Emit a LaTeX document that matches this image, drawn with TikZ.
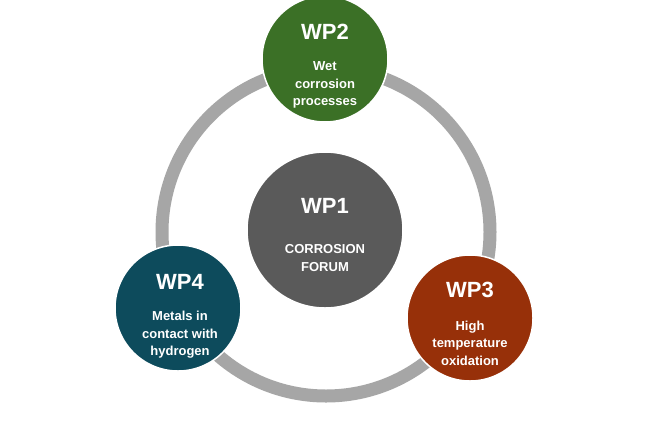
\documentclass[tikz,border=0pt]{standalone}
\usepackage{fontspec}
\setmainfont{Liberation Sans}
\begin{document}
\begin{tikzpicture}[x=1pt,y=-1pt,
  wp/.style={circle,draw=white,line width=1.5pt,text=white,font=\bfseries,align=center,inner sep=0pt},
  ttl/.style={font=\bfseries\fontsize{22}{24}\selectfont},
  sub/.style={font=\bfseries\fontsize{13}{17.5}\selectfont}]
\definecolor{ringc}{HTML}{A6A6A6}
\definecolor{c1}{HTML}{5A5A5A}
\definecolor{c2}{HTML}{3B7026}
\definecolor{c3}{HTML}{973009}
\definecolor{c4}{HTML}{0D4B5C}
\useasboundingbox[fill=white] (0,0) rectangle (650,421);
\node[circle,draw=ringc,line width=13pt,minimum size=328pt] (ring) at (326,232) {};
\node[wp,fill=c1,minimum size=156pt] (wp1) at (325,230) {};
\node[wp,fill=c2,minimum size=126pt] (wp2) at (325,59) {};
\node[wp,fill=c4,minimum size=126pt] (wp4) at (178,308) {};
\node[wp,fill=c3,minimum size=126pt] (wp3) at (470,318) {};
\node[ttl,text=white] (t1) at (325,206) {WP1};
\node[sub,text=white,align=center] (s1) at (325,258) {CORROSION\\FORUM};
\node[ttl,text=white] (t2) at (325,32) {WP2};
\node[sub,text=white,align=center] (s2) at (325,85) {Wet\\corrosion\\processes};
\node[ttl,text=white] (t4) at (180,282) {WP4};
\node[sub,text=white,align=center] (s4) at (180,335) {Metals in\\contact with\\hydrogen};
\node[ttl,text=white] (t3) at (470,290) {WP3};
\node[sub,text=white,align=center] (s3) at (470,343) {High\\temperature\\oxidation};
\end{tikzpicture}
\end{document}
